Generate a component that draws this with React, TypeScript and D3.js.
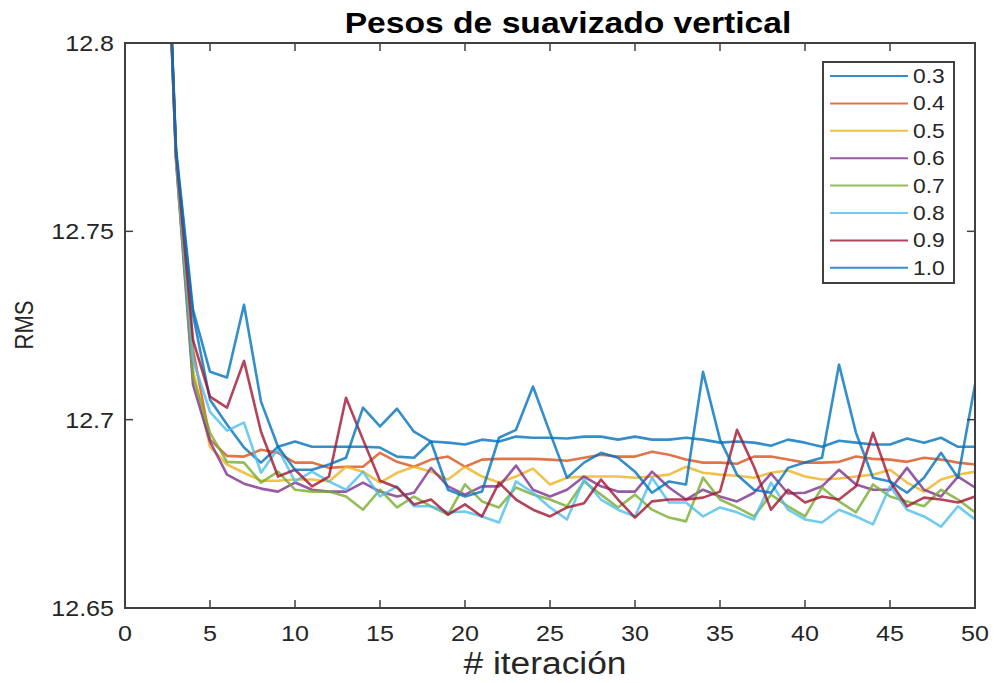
import React from 'react';
import * as d3 from 'd3';

// RMS per iteration (iterations 1..50)
const iterations = d3.range(1, 51);

const w03 = [13.05, 12.89, 12.771, 12.7279, 12.7053, 12.6987, 12.6926, 12.6886, 12.6928, 12.6942, 12.6928, 12.6928, 12.6928, 12.6928, 12.6926, 12.6902, 12.6899, 12.6942, 12.6939, 12.6934, 12.6947, 12.6942, 12.6955, 12.6952, 12.6952, 12.6950, 12.6955, 12.6955, 12.6947, 12.6955, 12.6947, 12.6947, 12.6952, 12.6947, 12.6939, 12.6942, 12.6939, 12.6931, 12.6947, 12.6939, 12.6928, 12.6944, 12.6939, 12.6934, 12.6934, 12.6950, 12.6939, 12.6952, 12.6928, 12.6928];
const w04 = [13.05, 12.89, 12.770, 12.7186, 12.6947, 12.6904, 12.6902, 12.6920, 12.6912, 12.6886, 12.6886, 12.6872, 12.6875, 12.6875, 12.6912, 12.6888, 12.6875, 12.6894, 12.6902, 12.6875, 12.6894, 12.6896, 12.6896, 12.6896, 12.6894, 12.6891, 12.6899, 12.6907, 12.6902, 12.6902, 12.6915, 12.6907, 12.6894, 12.6886, 12.6886, 12.6883, 12.6902, 12.6902, 12.6894, 12.6886, 12.6886, 12.6888, 12.6902, 12.6896, 12.6894, 12.6888, 12.6899, 12.6894, 12.6886, 12.6881];
const w05 = [13.05, 12.89, 12.770, 12.7133, 12.6928, 12.6881, 12.6859, 12.6838, 12.6838, 12.6841, 12.6841, 12.6836, 12.6875, 12.6862, 12.6833, 12.6859, 12.6875, 12.6862, 12.6841, 12.6875, 12.6849, 12.6833, 12.6849, 12.6870, 12.6828, 12.6846, 12.6849, 12.6849, 12.6849, 12.6846, 12.6849, 12.6854, 12.6875, 12.6859, 12.6854, 12.6851, 12.6846, 12.6859, 12.6865, 12.6849, 12.6841, 12.6844, 12.6849, 12.6854, 12.6867, 12.6833, 12.6809, 12.6841, 12.6854, 12.6862];
const w06 = [13.05, 12.89, 12.769, 12.7093, 12.6942, 12.6854, 12.6830, 12.6817, 12.6809, 12.6833, 12.6814, 12.6809, 12.6809, 12.6833, 12.6809, 12.6796, 12.6806, 12.6872, 12.6823, 12.6801, 12.6823, 12.6823, 12.6878, 12.6814, 12.6796, 12.6814, 12.6849, 12.6823, 12.6809, 12.6809, 12.6862, 12.6820, 12.6788, 12.6814, 12.6796, 12.6783, 12.6806, 12.6857, 12.6804, 12.6806, 12.6823, 12.6867, 12.6828, 12.6814, 12.6814, 12.6872, 12.6814, 12.6796, 12.6849, 12.6820];
const w07 = [13.05, 12.89, 12.769, 12.7114, 12.6965, 12.6888, 12.6886, 12.6833, 12.6862, 12.6814, 12.6809, 12.6809, 12.6796, 12.6761, 12.6814, 12.6767, 12.6796, 12.6770, 12.6748, 12.6828, 12.6783, 12.6767, 12.6820, 12.6801, 12.6788, 12.6770, 12.6836, 12.6801, 12.6767, 12.6801, 12.6761, 12.6740, 12.6730, 12.6846, 12.6788, 12.6767, 12.6743, 12.6801, 12.6770, 12.6743, 12.6820, 12.6783, 12.6754, 12.6828, 12.6796, 12.6783, 12.6770, 12.6814, 12.6788, 12.6754];
const w08 = [13.05, 12.89, 12.770, 12.7159, 12.7021, 12.6971, 12.6992, 12.6859, 12.6923, 12.6836, 12.6862, 12.6836, 12.6814, 12.6862, 12.6796, 12.6823, 12.6770, 12.6770, 12.6754, 12.6756, 12.6743, 12.6727, 12.6836, 12.6806, 12.6767, 12.6735, 12.6841, 12.6788, 12.6761, 12.6743, 12.6846, 12.6780, 12.6780, 12.6743, 12.6767, 12.6754, 12.6735, 12.6833, 12.6761, 12.6735, 12.6727, 12.6761, 12.6743, 12.6722, 12.6823, 12.6761, 12.6743, 12.6716, 12.6770, 12.6735];
const w09 = [13.05, 12.89, 12.771, 12.7212, 12.7061, 12.7032, 12.7156, 12.6968, 12.6849, 12.6867, 12.6823, 12.6849, 12.7058, 12.6947, 12.6838, 12.6820, 12.6775, 12.6788, 12.6748, 12.6775, 12.6743, 12.6833, 12.6788, 12.6761, 12.6743, 12.6767, 12.6778, 12.6841, 12.6788, 12.6740, 12.6783, 12.6788, 12.6788, 12.6793, 12.6809, 12.6973, 12.6875, 12.6761, 12.6814, 12.6780, 12.6796, 12.6788, 12.6823, 12.6965, 12.6836, 12.6770, 12.6793, 12.6788, 12.6780, 12.6796];
const w10 = [13.05, 12.89, 12.772, 12.7292, 12.7127, 12.7112, 12.7305, 12.7048, 12.6928, 12.6867, 12.6867, 12.6881, 12.6899, 12.7032, 12.6982, 12.7029, 12.6968, 12.6942, 12.6814, 12.6796, 12.6809, 12.6952, 12.6973, 12.7088, 12.6965, 12.6846, 12.6886, 12.6912, 12.6899, 12.6862, 12.6806, 12.6836, 12.6828, 12.7127, 12.6947, 12.6854, 12.6814, 12.6806, 12.6872, 12.6886, 12.6899, 12.7146, 12.6965, 12.6846, 12.6836, 12.6806, 12.6846, 12.6912, 12.6846, 12.7093];

const seriesNames = ['0.3', '0.4', '0.5', '0.6', '0.7', '0.8', '0.9', '1.0'];
const seriesValues = [w03, w04, w05, w06, w07, w08, w09, w10];
const seriesColors = ['#0072BD', '#D95319', '#EDB120', '#7E2F8E', '#77AC30', '#4DBEEE', '#A2142F', '#0072BD'];

const xTicks = [0, 5, 10, 15, 20, 25, 30, 35, 40, 45, 50];
const yTicks = [12.65, 12.7, 12.75, 12.8];
const yTickLabels = ['12.65', '12.7', '12.75', '12.8'];

const W = 994;
const H = 683;
const plot = { left: 125, right: 975, top: 43, bottom: 608 };
const font = '"Liberation Sans", Arial, Helvetica, sans-serif';
const sx = 1.14; // text in the figure is a bit wide

function Txt({ x, y, size, anchor = 'start', weight = 400, fill = '#262626', rotate = 0, children }: any) {
  const tf = rotate
    ? `translate(${x},${y}) rotate(${rotate}) scale(1,${sx})`
    : `translate(${x},${y}) scale(${sx},1)`;
  return (
    <text transform={tf} textAnchor={anchor} fontSize={size} fontWeight={weight} fill={fill} fontFamily={font}>
      {children}
    </text>
  );
}

export default function App() {
  const x = d3.scaleLinear().domain([0, 50]).range([plot.left, plot.right]);
  const y = d3.scaleLinear().domain([12.65, 12.8]).range([plot.bottom, plot.top]);

  const line = d3.line<number>()
    .x((d, i) => x(iterations[i]))
    .y(d => y(d));

  const legend = { x: 823, y: 62, w: 131, h: 221, row: 27.4 };
  const axisColor = '#404040';

  return (
    <div style={{ position: 'absolute', left: 0, top: 0 }}>
      <svg width={W} height={H} style={{ display: 'block', background: '#fff' }}>
        <defs>
          <clipPath id="plotclip">
            <rect x={plot.left} y={plot.top} width={plot.right - plot.left} height={plot.bottom - plot.top} />
          </clipPath>
        </defs>

        <rect x={0} y={0} width={W} height={H} fill="#fff" />

        {/* series */}
        <g clipPath="url(#plotclip)">
          {seriesValues.map((vals, k) => (
            <path key={k} d={line(vals) || ''} fill="none" stroke={seriesColors[k]}
              strokeWidth={2.6} strokeLinejoin="round" strokeOpacity={0.8} />
          ))}
        </g>

        {/* axes box & ticks */}
        <rect x={plot.left} y={plot.top} width={plot.right - plot.left} height={plot.bottom - plot.top}
          fill="none" stroke={axisColor} strokeWidth={2} />
        {xTicks.map(t => (
          <g key={'xt' + t}>
            <line x1={x(t)} x2={x(t)} y1={plot.bottom} y2={plot.bottom - 8} stroke={axisColor} strokeWidth={1.5} />
            <line x1={x(t)} x2={x(t)} y1={plot.top} y2={plot.top + 8} stroke={axisColor} strokeWidth={1.5} />
            <Txt x={x(t)} y={641} size={22} anchor="middle">{String(t)}</Txt>
          </g>
        ))}
        {yTicks.map((t, i) => (
          <g key={'yt' + t}>
            <line x1={plot.left} x2={plot.left + 8} y1={y(t)} y2={y(t)} stroke={axisColor} strokeWidth={1.5} />
            <line x1={plot.right} x2={plot.right - 8} y1={y(t)} y2={y(t)} stroke={axisColor} strokeWidth={1.5} />
            <Txt x={114} y={y(t) + 8} size={22} anchor="end">{yTickLabels[i]}</Txt>
          </g>
        ))}

        {/* labels */}
        <Txt x={568} y={33} size={29.5} anchor="middle" weight={700} fill="#000">Pesos de suavizado vertical</Txt>
        <Txt x={545} y={674} size={31} anchor="middle">{'# iteración'}</Txt>
        <Txt x={33} y={325} size={22} anchor="middle" rotate={-90}>RMS</Txt>

        {/* legend */}
        <rect x={legend.x} y={legend.y} width={legend.w} height={legend.h} fill="#fff" stroke={axisColor} strokeWidth={2} />
        {seriesNames.map((name, k) => {
          const ly = legend.y + 14 + k * legend.row;
          return (
            <g key={name}>
              <line x1={legend.x + 7} x2={legend.x + 85} y1={ly} y2={ly} stroke={seriesColors[k]} strokeWidth={2} strokeOpacity={0.8} />
              <Txt x={legend.x + 90} y={ly + 7} size={20}>{name}</Txt>
            </g>
          );
        })}
      </svg>
    </div>
  );
}
